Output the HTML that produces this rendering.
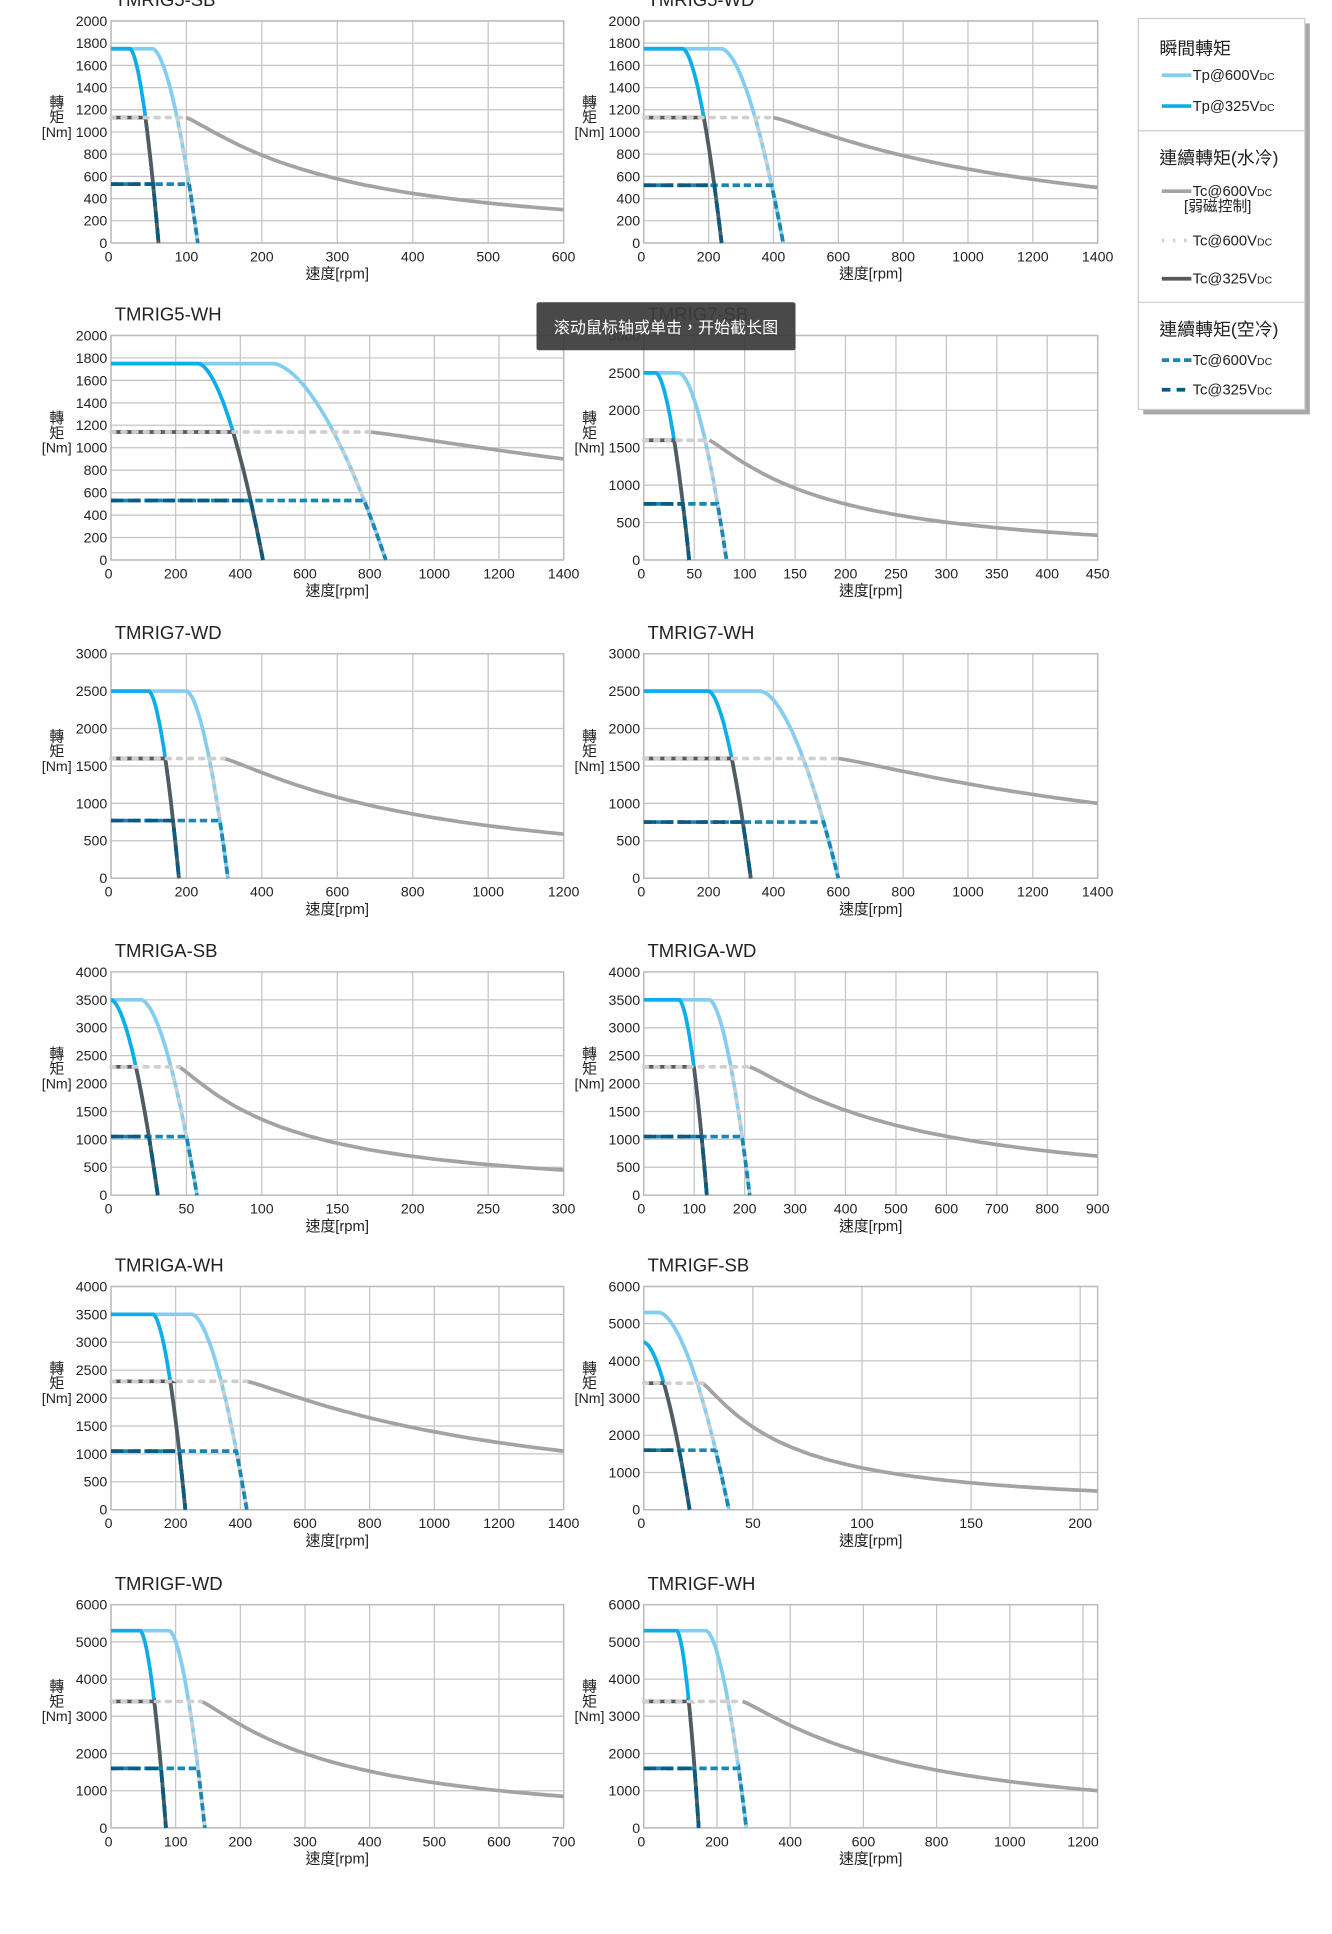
<!DOCTYPE html>
<html><head><meta charset="utf-8">
<style>
html,body{margin:0;padding:0;background:#fff;}
svg{display:block;}
text{font-family:"Liberation Sans","Noto Sans CJK TC",sans-serif;fill:#222;}
</style></head>
<body>
<svg id="s" width="1332" height="1934" viewBox="0 0 1080 1568" preserveAspectRatio="none" xmlns="http://www.w3.org/2000/svg"></svg>
<script>
const S=document.getElementById('s');
let out='';
const C={tp6:'#84cdf2',tp3:'#0aaee8',wf:'#a3a3a3',dot:'#cfcfcf',tc3:'#555a5e',a6:'#1a86b2',a3:'#0b5a82'};
function chart(o){
 const L=o.L,R=o.R,T=o.T,B=o.B;
 const X=v=>L+(R-L)*v/o.xmax, Y=v=>B-(B-T)*v/o.ymax;
 let g='';
 for(let v=0;v<=o.ymax+1e-6;v+=o.ys){g+=`<line x1="${L}" x2="${R}" y1="${Y(v)}" y2="${Y(v)}" stroke="#c4c4c4" stroke-width="1"/>`;
  g+=`<text x="${L-3}" y="${Y(v)+4}" font-size="11.5" text-anchor="end">${v}</text>`;}
 for(let v=0;v<=o.xmax+1e-6;v+=o.xs){g+=`<line x1="${X(v)}" x2="${X(v)}" y1="${T}" y2="${B}" stroke="#c4c4c4" stroke-width="1"/>`;
  g+=`<text x="${v==0?X(v)-2:X(v)}" y="${B+15}" font-size="11.5" text-anchor="middle">${v}</text>`;}
 g+=`<rect x="${L}" y="${T}" width="${R-L}" height="${B-T}" fill="none" stroke="#bbb" stroke-width="1.2"/>`;
 g+=`<text x="${L+3}" y="${T-12}" font-size="15">${o.name}</text>`;
 g+=`<text x="${(L+R)/2}" y="${B+29}" font-size="12" text-anchor="middle">速度[rpm]</text>`;
 const ax=L-44, ay=(T+B)/2;
 g+=`<text x="${ax}" y="${ay-20}" font-size="12" text-anchor="middle">轉</text><text x="${ax}" y="${ay-8}" font-size="12" text-anchor="middle">矩</text><text x="${ax}" y="${ay+4}" font-size="11.5" text-anchor="middle">[Nm]</text>`;
 function drop(tp,f,z){return x=>x<=f?tp:(x>=z?0:tp*(1-Math.pow((x-f)/(z-f),1.7)));}
 const d6=drop(o.tp,o.f6,o.z6), d3=drop(o.tp3||o.tp,o.f3,o.z3);
 function inv(fn,lev,a,b){for(let i=0;i<60;i++){let m=(a+b)/2; if(fn(m)>lev)a=m;else b=m;}return (a+b)/2;}
 function path(fn,a,b){let p='';const n=80;for(let i=0;i<=n;i++){const x=a+(b-a)*i/n;p+=(i?'L':'M')+X(x).toFixed(1)+','+Y(fn(x)).toFixed(1);}return p;}
 const bb=1.16, aa=(o.tc/o.end-1)/Math.pow(o.xmax/o.k-1,bb);
 const wf=x=>x<=o.k?o.tc:o.tc/(1+aa*Math.pow(x/o.k-1,bb));
 g+=`<path d="${path(wf,o.k,o.xmax)}" fill="none" stroke="${C.wf}" stroke-width="3"/>`;
 const k6=inv(d6,o.tc,o.f6,o.z6);
 g+=`<path d="${path(d6,0,o.z6)}" fill="none" stroke="${C.tp6}" stroke-width="3"/>`;
 g+=`<path d="${path(d3,0,o.z3)}" fill="none" stroke="${C.tp3}" stroke-width="3"/>`;
 const k3=inv(d3,o.tc,o.f3,o.z3);
 g+=`<path d="M${X(0)},${Y(o.tc)}L${X(k3)},${Y(o.tc)}${path(d3,k3,o.z3).replace('M','L')}" fill="none" stroke="${C.tc3}" stroke-width="3"/>`;
 g+=`<path d="M${X(0)},${Y(o.tc)}L${X(o.k)},${Y(o.tc)}" stroke="${C.dot}" stroke-width="3" stroke-dasharray="3,6" stroke-linecap="round"/>`;
 g+=`<path d="${path(d6,k6,o.z6)}" fill="none" stroke="${C.dot}" stroke-width="3" stroke-dasharray="2,7" stroke-linecap="round"/>`;
 const a6=inv(d6,o.ta,o.f6,o.z6), a3=inv(d3,o.ta,o.f3,o.z3);
 g+=`<path d="M${X(0)},${Y(o.ta)}L${X(a6)},${Y(o.ta)}${path(d6,a6,o.z6).replace('M','L')}" fill="none" stroke="${C.a6}" stroke-width="3" stroke-dasharray="6,3"/>`;
 g+=`<path d="M${X(0)},${Y(o.ta)}L${X(a3)},${Y(o.ta)}${path(d3,a3,o.z3).replace('M','L')}" fill="none" stroke="${C.a3}" stroke-width="3" stroke-dasharray="10,4"/>`;
 out+=g;
}
const LC={L:90,R:457},RC={L:522,R:890};
const rows=[[17,197],[272,454],[530,712],[788,969],[1043,1224],[1301,1482]];
const defs=[
 [LC,0,'TMRIG5-SB',600,100,2000,200,1750,55,115,25,63,1130,100,300,530],
 [RC,0,'TMRIG5-WD',1400,200,2000,200,1750,240,430,120,240,1130,400,500,520],
 [LC,1,'TMRIG5-WH',1400,200,2000,200,1750,500,850,270,470,1140,800,900,530],
 [RC,1,'TMRIG7-SB',450,50,3000,500,2500,35,82,12,45,1600,65,330,750],
 [LC,2,'TMRIG7-WD',1200,200,3000,500,2500,200,310,100,180,1600,300,590,770],
 [RC,2,'TMRIG7-WH',1400,200,3000,500,2500,360,600,200,330,1600,600,1000,750],
 [LC,3,'TMRIGA-SB',300,50,4000,500,3500,20,57,0,31,2300,45,450,1050],
 [RC,3,'TMRIGA-WD',900,100,4000,500,3500,130,210,70,125,2300,210,700,1050],
 [LC,4,'TMRIGA-WH',1400,200,4000,500,3500,250,420,130,230,2300,420,1050,1050],
 [RC,4,'TMRIGF-SB',208,50,6000,1000,5300,7,39,0,21,3400,27,500,1600,4500],
 [LC,5,'TMRIGF-WD',700,100,6000,1000,5300,90,145,45,85,3400,140,850,1600],
 [RC,5,'TMRIGF-WH',1240,200,6000,1000,5300,170,280,90,150,3400,270,1000,1600]
];
defs.forEach(d=>{chart({L:d[0].L,R:d[0].R,T:rows[d[1]][0],B:rows[d[1]][1],name:d[2],xmax:d[3],xs:d[4],ymax:d[5],ys:d[6],tp:d[7],f6:d[8],z6:d[9],f3:d[10],z3:d[11],tc:d[12],k:d[13],end:d[14],ta:d[15],tp3:d[16]});});
out+=`<rect x="435" y="245" width="210" height="39" rx="2" fill="#3b3b3b" opacity="0.93"/><text x="540" y="270" font-size="13" text-anchor="middle" style="fill:#fff">滚动鼠标轴或单击，开始截长图</text>`;
out+=`<rect x="927" y="19" width="135" height="317" fill="#a8a8a8"/><rect x="923" y="15" width="135" height="317" fill="#fff" stroke="#ccc"/>`;
out+=`<line x1="923" x2="1058" y1="106" y2="106" stroke="#ccc"/><line x1="923" x2="1058" y1="245" y2="245" stroke="#ccc"/>`;
const lg=(y,col,dash,txt)=>`<line x1="942" x2="966" y1="${y}" y2="${y}" stroke="${col}" stroke-width="3" ${dash?'stroke-dasharray="'+dash+'"':''}/><text x="967" y="${y+4}" font-size="12">${txt}</text>`;
const sub='<tspan font-size="8.5">DC</tspan>';
out+=`<text x="940" y="44" font-size="14.5">瞬間轉矩</text>`;
out+=lg(61,C.tp6,'','Tp@600V'+sub)+lg(86,C.tp3,'','Tp@325V'+sub);
out+=`<text x="940" y="133" font-size="14.5">連續轉矩(水冷)</text>`;
out+=lg(155,C.wf,'','Tc@600V'+sub)+`<text x="960" y="171" font-size="12">[弱磁控制]</text>`;
out+=lg(195,C.dot,'2,7','Tc@600V'+sub)+lg(226,C.tc3,'','Tc@325V'+sub);
out+=`<text x="940" y="272" font-size="14.5">連續轉矩(空冷)</text>`;
out+=lg(292,C.a6,'6,3','Tc@600V'+sub)+lg(316,C.a3,'7,5','Tc@325V'+sub);
S.innerHTML=out;
</script>
</body></html>
